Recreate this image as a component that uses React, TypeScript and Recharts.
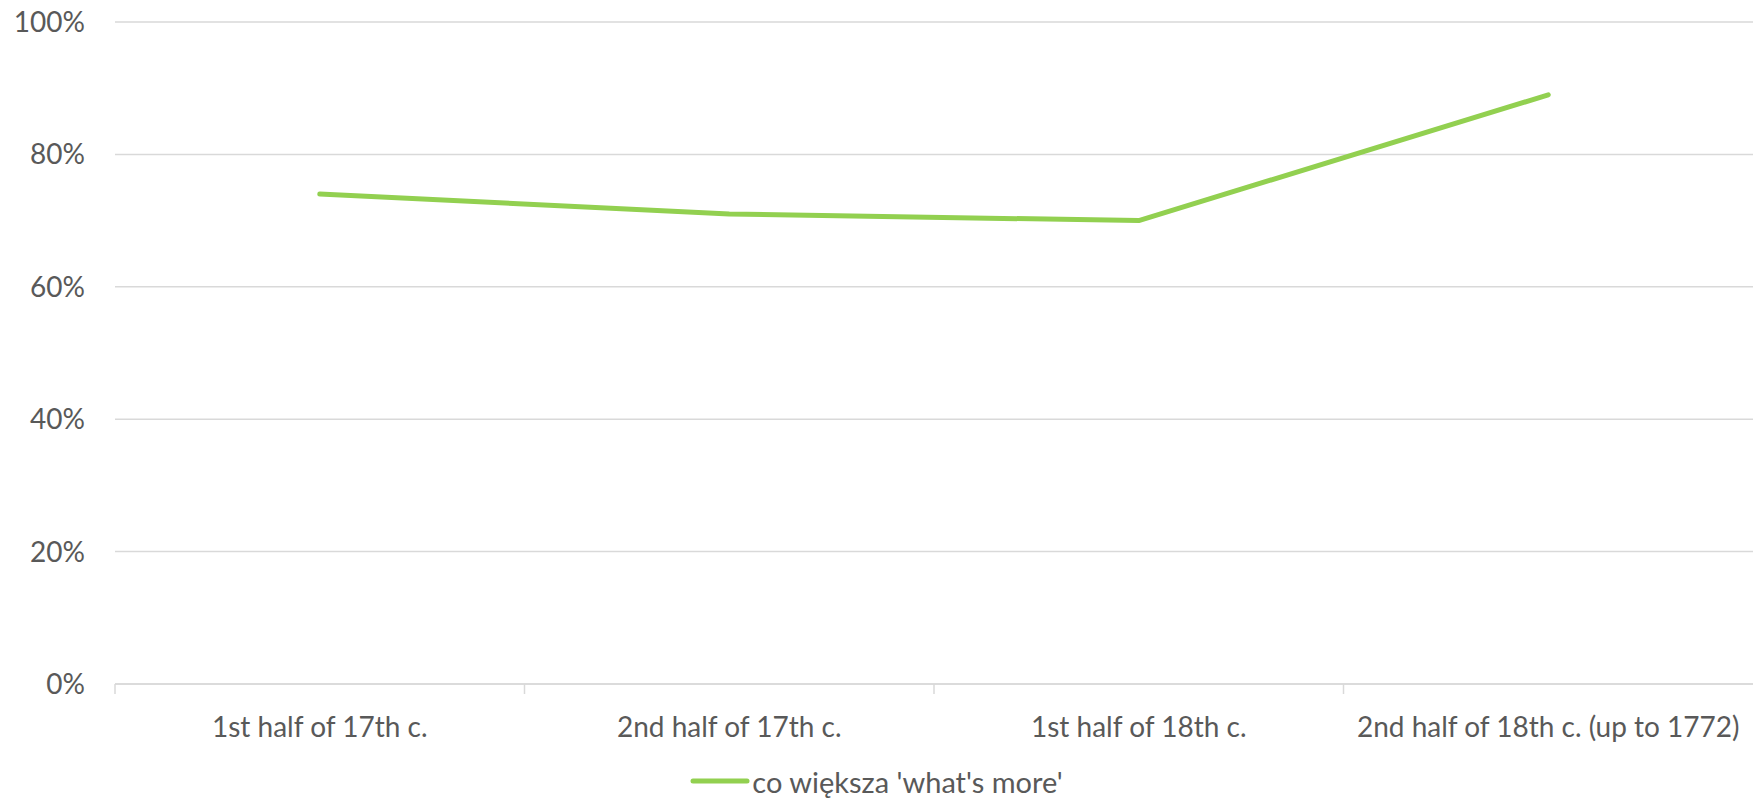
import { CartesianGrid, Legend, Line, LineChart, XAxis, YAxis } from "recharts";

const periods = [
  "1st half of 17th c.",
  "2nd half of 17th c.",
  "1st half of 18th c.",
  "2nd half of 18th c. (up to 1772)",
];
const whatsMore = [74, 71, 70, 89];
const yTicks = [0, 20, 40, 60, 80, 100];
const seriesName = "co większa 'what's more'";

const data = periods.map((period, i) => ({ period, value: whatsMore[i] }));

const FONT = "Lato, 'Open Sans', sans-serif";
const TEXT = "#595959";
const GRID = "#d9d9d9";
const GREEN = "#92d050";
const LABEL_GAP = 33;

// category label plus a small divider tick at the left edge of its band
function PeriodTick(props: any) {
  const { x, y, payload } = props;
  const axisY = y - LABEL_GAP;
  const left = x - (payload.offset ?? 0);
  return (
    <g>
      <line x1={left} y1={axisY} x2={left} y2={axisY + 10} stroke={GRID} strokeWidth={1.5} />
      <text
        x={x}
        y={y}
        dy="0.71em"
        textAnchor="middle"
        fill={TEXT}
        fontSize={28}
        fontFamily={FONT}
      >
        {payload.value}
      </text>
    </g>
  );
}

function LegendContent() {
  return (
    <div
      style={{
        display: "flex",
        justifyContent: "center",
        alignItems: "center",
        height: 34,
        fontFamily: FONT,
        fontSize: 29,
        color: TEXT,
      }}
    >
      <svg width={60} height={10} style={{ marginRight: 2 }}>
        <line x1={3} y1={5} x2={57} y2={5} stroke={GREEN} strokeWidth={5} strokeLinecap="round" />
      </svg>
      <span>{seriesName}</span>
    </div>
  );
}

export default function App() {
  return (
    <div style={{ position: "absolute", left: 0, top: 0, background: "#fff" }}>
      <LineChart
        width={1753}
        height={798}
        data={data}
        margin={{ top: 22, right: 0, bottom: 0, left: 0 }}
      >
        <CartesianGrid stroke={GRID} strokeWidth={1.5} vertical={false} />
        <XAxis
          dataKey="period"
          scale="band"
          axisLine={{ stroke: GRID, strokeWidth: 1.5 }}
          tickLine={false}
          tickSize={0}
          tickMargin={LABEL_GAP}
          height={80}
          interval={0}
          tick={<PeriodTick />}
        />
        <YAxis
          domain={[0, 100]}
          ticks={yTicks}
          width={115}
          axisLine={false}
          tickLine={false}
          tickSize={0}
          tickMargin={30}
          tickFormatter={(v) => `${v}%`}
          tick={{ fill: TEXT, fontSize: 28, fontFamily: FONT }}
        />
        <Legend verticalAlign="bottom" height={34} content={<LegendContent />} />
        <Line
          dataKey="value"
          name={seriesName}
          stroke={GREEN}
          strokeWidth={5}
          strokeLinecap="round"
          strokeLinejoin="round"
          dot={false}
          activeDot={false}
          isAnimationActive={false}
        />
      </LineChart>
    </div>
  );
}
